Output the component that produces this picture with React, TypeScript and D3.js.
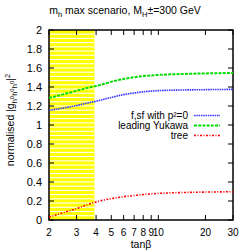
import * as d3 from "d3";
import { useEffect, useRef } from "react";

const TANB = [2, 2.5, 3, 3.5, 4, 5, 6, 7, 8, 9, 10, 12, 15, 20, 25, 30];
const FSF = [1.155, 1.18, 1.205, 1.23, 1.25, 1.29, 1.32, 1.337, 1.349, 1.357, 1.362, 1.366, 1.369, 1.372, 1.374, 1.375];
const YUKAWA = [1.285, 1.325, 1.36, 1.39, 1.41, 1.455, 1.485, 1.503, 1.515, 1.522, 1.527, 1.533, 1.538, 1.543, 1.546, 1.548];
const TREE = [0.03, 0.08, 0.12, 0.16, 0.19, 0.225, 0.245, 0.258, 0.268, 0.275, 0.28, 0.286, 0.29, 0.294, 0.296, 0.298];
const X_TICKS = [2, 3, 4, 5, 6, 7, 8, 9, 10, 20, 30];
const Y_TICKS = [0, 0.2, 0.4, 0.6, 0.8, 1, 1.2, 1.4, 1.6, 1.8, 2];
const EXCLUDED = [2, 3.9];

const SERIES = [
  { name: "f,sf with p²=0", values: FSF, color: "#3333ff", dash: "1.5,0.8", width: 1.6 },
  { name: "leading Yukawa", values: YUKAWA, color: "#00dd00", dash: "3,1.2", width: 2 },
  { name: "tree", values: TREE, color: "#ff0000", dash: "2,1.5,1,1.5", width: 1.6 },
];

export default function App() {
  const ref = useRef<SVGSVGElement>(null);

  useEffect(() => {
    const svg = d3.select(ref.current);
    svg.selectAll("*").remove();
    const font = "'Liberation Sans', Arial, sans-serif";
    const m = { left: 49, right: 233, top: 30, bottom: 220 };
    const x = d3.scaleLog().domain([2, 30]).range([m.left, m.right]);
    const y = d3.scaleLinear().domain([0, 2]).range([m.bottom, m.top]);

    svg.append("rect").attr("width", 250).attr("height", 250).attr("fill", "#fff");

    // striped yellow band
    const bx0 = x(EXCLUDED[0]);
    const bx1 = x(EXCLUDED[1]);
    const band = svg.append("g");
    band.append("rect").attr("x", bx0).attr("y", m.top).attr("width", bx1 - bx0)
      .attr("height", m.bottom - m.top).attr("fill", "#ffff00");
    const nStripes = 45;
    const step = (m.bottom - m.top) / nStripes;
    for (let i = 1; i < nStripes; i++) {
      band.append("rect").attr("x", bx0).attr("width", bx1 - bx0)
        .attr("y", m.top + i * step - 0.6).attr("height", 1.1).attr("fill", "#ffffff");
    }

    const g = svg.append("g");
    // axes frame
    g.append("rect").attr("x", m.left).attr("y", m.top).attr("width", m.right - m.left)
      .attr("height", m.bottom - m.top).attr("fill", "none").attr("stroke", "#000").attr("stroke-width", 1.5);

    Y_TICKS.forEach((v) => {
      g.append("line").attr("x1", m.left).attr("x2", m.left + 5).attr("y1", y(v)).attr("y2", y(v)).attr("stroke", "#000");
      g.append("line").attr("x1", m.right).attr("x2", m.right - 5).attr("y1", y(v)).attr("y2", y(v)).attr("stroke", "#000");
      g.append("text").attr("x", 42).attr("y", y(v) + 4).attr("text-anchor", "end")
        .attr("font-family", font).attr("font-size", 11).text(String(v));
    });
    X_TICKS.forEach((v) => {
      g.append("line").attr("x1", x(v)).attr("x2", x(v)).attr("y1", m.bottom).attr("y2", m.bottom - 5).attr("stroke", "#000");
      g.append("line").attr("x1", x(v)).attr("x2", x(v)).attr("y1", m.top).attr("y2", m.top + 5).attr("stroke", "#000");
      g.append("text").attr("x", x(v)).attr("y", 236).attr("text-anchor", "middle")
        .attr("font-family", font).attr("font-size", 10).text(String(v));
    });

    const line = d3.line<number>().x((_, i) => x(TANB[i])).y((d) => y(d)).curve(d3.curveMonotoneX);
    SERIES.forEach((s) => {
      g.append("path").attr("d", line(s.values) ?? "").attr("fill", "none").attr("stroke", s.color)
        .attr("stroke-width", s.width).attr("stroke-dasharray", s.dash);
    });

    // legend
    SERIES.forEach((s, i) => {
      const ly = 115.5 + i * 10;
      g.append("text").attr("x", 188).attr("y", ly + 3.5).attr("text-anchor", "end")
        .attr("font-family", font).attr("font-size", 10).text(s.name);
      g.append("line").attr("x1", 194).attr("x2", 220).attr("y1", ly).attr("y2", ly).attr("stroke", s.color)
        .attr("stroke-width", s.width).attr("stroke-dasharray", s.dash);
    });

    // title
    const title = svg.append("text").attr("x", 125).attr("y", 14).attr("text-anchor", "middle")
      .attr("font-family", font).attr("font-size", 10.5);
    title.append("tspan").text("m");
    title.append("tspan").attr("font-size", 7.5).attr("dy", 2.5).text("h");
    title.append("tspan").attr("dy", -2.5).text(" max scenario, M");
    title.append("tspan").attr("font-size", 7.5).attr("dy", 2.5).text("H");
    title.append("tspan").attr("dy", -2.5).text("±=300 GeV");

    // axis labels
    svg.append("text").attr("x", x(Math.sqrt(60))).attr("y", 248).attr("text-anchor", "middle")
      .attr("font-family", font).attr("font-size", 10.5).text("tanβ");

    const yl = svg.append("text").attr("transform", `translate(14,${(m.top + m.bottom) / 2 - 5}) rotate(-90)`)
      .attr("text-anchor", "middle").attr("font-family", font).attr("font-size", 10.5);
    yl.append("tspan").text("normalised |g");
    yl.append("tspan").attr("font-size", 7.5).attr("dy", 2.5).text("h");
    yl.append("tspan").attr("font-size", 6).attr("dy", -3).text("0");
    yl.append("tspan").attr("font-size", 7.5).attr("dy", 3).text("h");
    yl.append("tspan").attr("font-size", 6).attr("dy", -3).text("0");
    yl.append("tspan").attr("font-size", 7.5).attr("dy", 3).text("h");
    yl.append("tspan").attr("font-size", 6).attr("dy", -3).text("0");
    yl.append("tspan").attr("dy", 0.5).text("|");
    yl.append("tspan").attr("font-size", 7.5).attr("dy", -4).text("2");
  }, []);

  return <svg ref={ref} width={250} height={250} style={{ position: "absolute", left: 0, top: 0 }} />;
}
